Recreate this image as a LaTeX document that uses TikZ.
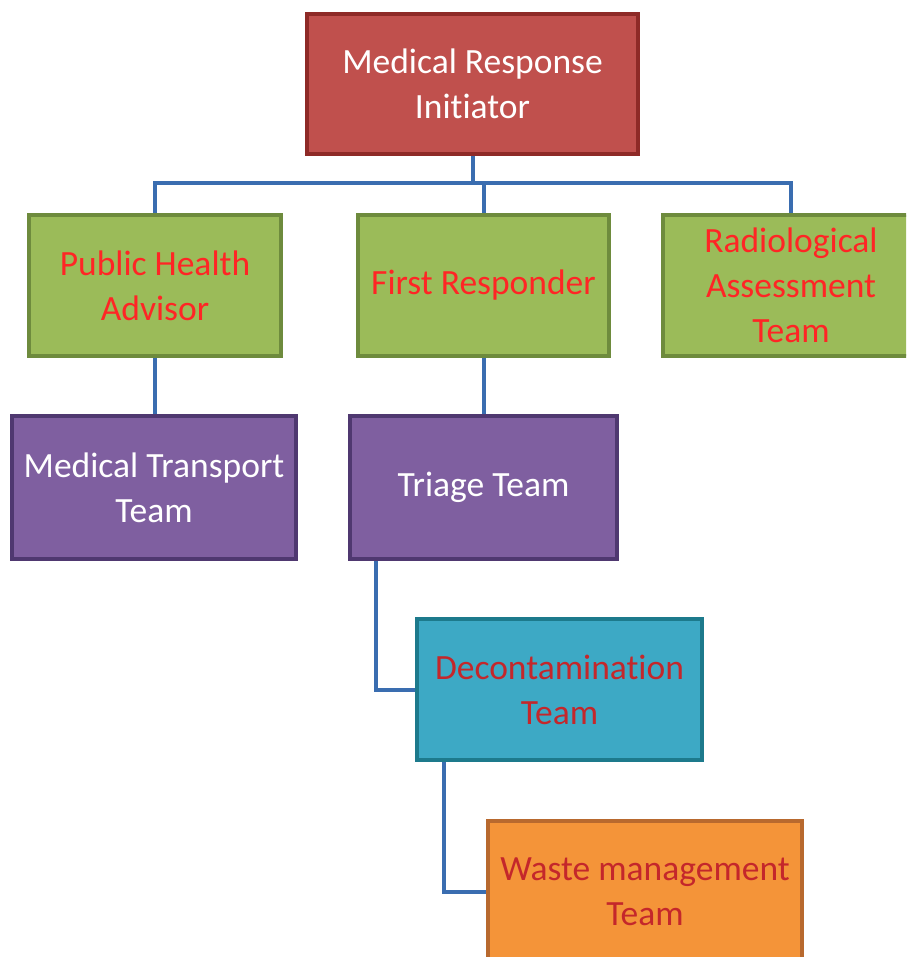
\documentclass[tikz,border=0pt]{standalone}
\usepackage{fontspec}
\setmainfont{Carlito}[Ligatures=NoCommon]
\usetikzlibrary{backgrounds}
\definecolor{redfill}{HTML}{C0504D}
\definecolor{redline}{HTML}{8E2A27}
\definecolor{greenfill}{HTML}{9BBB59}
\definecolor{greenline}{HTML}{6E8B3D}
\definecolor{purplefill}{HTML}{7F5FA0}
\definecolor{purpleline}{HTML}{4F3870}
\definecolor{cyanfill}{HTML}{3DA9C5}
\definecolor{cyanline}{HTML}{1D7A8C}
\definecolor{orangefill}{HTML}{F49439}
\definecolor{orangeline}{HTML}{B8692E}
\definecolor{brightred}{HTML}{FF2525}
\definecolor{darkred}{HTML}{C4272B}
\definecolor{conn}{HTML}{3A6DB0}
\tikzset{
  box/.style={draw, line width=4.5pt, align=center, inner sep=0pt,
    font=\fontsize{35.5}{45}\selectfont},
  redbox/.style={box, fill=redfill, draw=redline, text=white},
  greenbox/.style={box, fill=greenfill, draw=greenline, text=brightred},
  purplebox/.style={box, fill=purplefill, draw=purpleline, text=white},
  cyanbox/.style={box, fill=cyanfill, draw=cyanline, text=darkred},
  orangebox/.style={box, fill=orangefill, draw=orangeline, text=darkred},
  link/.style={draw=conn, line width=4pt}
}
\begin{document}
\begin{tikzpicture}[x=1pt,y=-1pt]
\useasboundingbox (0,0) rectangle (906,957);
\clip (0,0) rectangle (906,957);
\node[redbox, minimum width=331pt, minimum height=140pt] (top) at (472.5,84) {Medical Response\\Initiator};
\node[greenbox, minimum width=252pt, minimum height=141pt] (pha) at (155,285.5) {Public Health\\Advisor};
\node[greenbox, minimum width=251pt, minimum height=141pt] (fr) at (483.5,285.5) {First Responder};
\node[greenbox, minimum width=256pt, minimum height=141pt] (rad) at (791,285.5) {Radiological\\Assessment\\Team};
\node[purplebox, minimum width=284pt, minimum height=143pt] (mt) at (154,487.5) {Medical Transport\\Team};
\node[purplebox, minimum width=267pt, minimum height=143pt] (tri) at (483.5,487.5) {Triage Team};
\node[cyanbox, minimum width=285pt, minimum height=141pt] (dec) at (559.5,689.5) {Decontamination\\Team};
\node[orangebox, minimum width=314pt, minimum height=142pt] (wst) at (645,892) {Waste management\\Team};
\coordinate (bus) at (0,183);
\begin{scope}[on background layer]
\draw[link] (top.south) -- (top.south |- bus);
\draw[link, line cap=rect] (pha.north |- bus) -- (rad.north |- bus);
\draw[link] (pha.north |- bus) -- (pha.north);
\draw[link] (fr.north |- bus) -- (fr.north);
\draw[link] (rad.north |- bus) -- (rad.north);
\draw[link] (pha.south) -- (pha.south |- mt.north);
\draw[link] (fr.south) -- (fr.south |- tri.north);
\draw[link] ([xshift=28pt]tri.south west) |- (dec.west);
\draw[link] ([xshift=29pt]dec.south west) |- (wst.west);
\end{scope}
\end{tikzpicture}
\end{document}
